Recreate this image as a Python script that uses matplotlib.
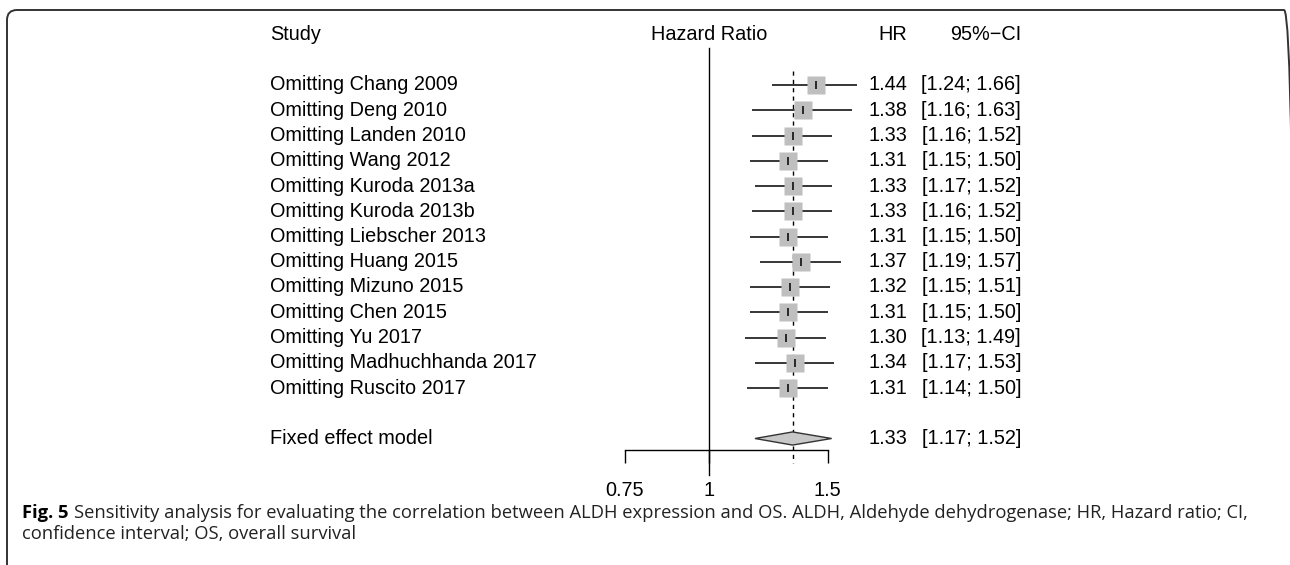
import numpy as np
import matplotlib
matplotlib.use("Agg")
import matplotlib.pyplot as plt
from matplotlib.patches import FancyBboxPatch
from matplotlib.transforms import blended_transform_factory, IdentityTransform

# === Data ===
studies = ["Omitting Chang 2009", "Omitting Deng 2010", "Omitting Landen 2010",
           "Omitting Wang 2012", "Omitting Kuroda 2013a", "Omitting Kuroda 2013b",
           "Omitting Liebscher 2013", "Omitting Huang 2015", "Omitting Mizuno 2015",
           "Omitting Chen 2015", "Omitting Yu 2017", "Omitting Madhuchhanda 2017",
           "Omitting Ruscito 2017"]
hr = [1.44, 1.38, 1.33, 1.31, 1.33, 1.33, 1.31, 1.37, 1.32, 1.31, 1.30, 1.34, 1.31]
ci_low = [1.24, 1.16, 1.16, 1.15, 1.17, 1.16, 1.15, 1.19, 1.15, 1.15, 1.13, 1.17, 1.14]
ci_high = [1.66, 1.63, 1.52, 1.50, 1.52, 1.52, 1.50, 1.57, 1.51, 1.50, 1.49, 1.53, 1.50]
fixed_label = "Fixed effect model"
fixed_hr, fixed_low, fixed_high = 1.33, 1.17, 1.52
xticks = [0.75, 1, 1.5]
xtick_labels = ["0.75", "1", "1.5"]

caption_bold = "Fig. 5"
caption_line1 = ("Sensitivity analysis for evaluating the correlation between ALDH expression "
                 "and OS. ALDH, Aldehyde dehydrogenase; HR, Hazard ratio; CI,")
caption_line2 = "confidence interval; OS, overall survival"

# === Layout (pixels) ===
W, H = 1290, 565
fig = plt.figure(figsize=(W / 100, H / 100), dpi=100)
plt.rcParams['font.family'] = ['Liberation Sans', 'DejaVu Sans']
FS = 14.3
CAP_FS = 13.2

def fx(px):
    return px / W

def fy(py):
    return 1 - py / H

# rounded frame (display pixels, origin bottom-left); bottom and right run off the canvas
frame = FancyBboxPatch((7, -40), 1294 - 7, (H - 10) + 40,
                       boxstyle="round,pad=0,rounding_size=10",
                       transform=IdentityTransform(), fill=False,
                       edgecolor='#333333', linewidth=1.4)
fig.patches.append(frame)

# forest axes: log x, row index y
x_ref, k = 709, 292.9
row_first, row_h = 85, 25.25
ax_l, ax_r, ax_t, ax_b = 560, 880, 20, 480
ax = fig.add_axes([fx(ax_l), fy(ax_b), (ax_r - ax_l) / W, (ax_b - ax_t) / H])
ax.set_xscale('log')
ax.set_xlim(np.exp((ax_l - x_ref) / k), np.exp((ax_r - x_ref) / k))
ax.set_ylim((ax_b - row_first) / row_h, (ax_t - row_first) / row_h)
ax.patch.set_visible(False)
for s in ['left', 'top', 'right']:
    ax.spines[s].set_visible(False)
ax.yaxis.set_visible(False)

n = len(studies)
y_fixed = n + 1
y_axis = (450 - row_first) / row_h
y_head = (35 - row_first) / row_h

ax.spines['bottom'].set_position(('data', y_axis))
ax.spines['bottom'].set_bounds(xticks[0], xticks[-1])
ax.spines['bottom'].set_linewidth(1.0)
ax.set_xticks(xticks)
ax.set_xticklabels(xtick_labels)
ax.xaxis.set_minor_locator(matplotlib.ticker.NullLocator())
ax.tick_params(axis='x', direction='out', length=9.4, width=1.0, pad=13, labelsize=FS)

# reference line at 1 and dashed line at pooled estimate
ax.plot([1, 1], [(48 - row_first) / row_h, (475 - row_first) / row_h],
        color='black', lw=1.0, zorder=1)
ax.plot([fixed_hr, fixed_hr], [-0.55, (463 - row_first) / row_h],
        color='black', lw=1.0, ls=(0, (3, 3)), zorder=1)

for i in range(n):
    ax.plot([ci_low[i], ci_high[i]], [i, i], color='black', lw=1.1, zorder=2,
            solid_capstyle='butt')
    ax.plot(hr[i], i, marker='s', ms=13.5, color='#bfbfbf', mec='none', zorder=3)
    ax.plot(hr[i], i, marker='|', ms=5.5, mew=1.1, color='black', zorder=4)

# diamond for pooled estimate
dh = 0.26
ax.fill([fixed_low, fixed_hr, fixed_high, fixed_hr],
        [y_fixed, y_fixed - dh, y_fixed, y_fixed + dh],
        facecolor='#c8c8c8', edgecolor='#333333', lw=1.0, zorder=3)

# text columns
tr = blended_transform_factory(fig.transFigure, ax.transData)
x_lab, x_hr, x_ci = fx(270), fx(907), fx(1021)
ax.text(x_lab, y_head, "Study", transform=tr, ha='left', va='center', fontsize=FS)
ax.text(1, y_head, "Hazard Ratio", ha='center', va='center', fontsize=FS)
ax.text(x_hr, y_head, "HR", transform=tr, ha='right', va='center', fontsize=FS)
ax.text(x_ci, y_head, "95%\u2212CI", transform=tr, ha='right', va='center', fontsize=FS)

for i in range(n):
    ax.text(x_lab, i, studies[i], transform=tr, ha='left', va='center', fontsize=FS)
    ax.text(x_hr, i, f"{hr[i]:.2f}", transform=tr, ha='right', va='center', fontsize=FS)
    ax.text(x_ci, i, f"[{ci_low[i]:.2f}; {ci_high[i]:.2f}]", transform=tr,
            ha='right', va='center', fontsize=FS)

ax.text(x_lab, y_fixed, fixed_label, transform=tr, ha='left', va='center', fontsize=FS)
ax.text(x_hr, y_fixed, f"{fixed_hr:.2f}", transform=tr, ha='right', va='center', fontsize=FS)
ax.text(x_ci, y_fixed, f"[{fixed_low:.2f}; {fixed_high:.2f}]", transform=tr,
        ha='right', va='center', fontsize=FS)

# caption
cap_font = ['Open Sans', 'DejaVu Sans']
t_bold = fig.text(fx(22), fy(513), caption_bold, ha='left', va='center',
                  fontsize=CAP_FS, weight='bold', family=cap_font)
renderer = fig.canvas.get_renderer()
bb = t_bold.get_window_extent(renderer)
fig.text((bb.x1 + 5) / W, fy(513), caption_line1, ha='left', va='center',
         fontsize=CAP_FS, family=cap_font, color='#222222')
fig.text(fx(22), fy(534), caption_line2, ha='left', va='center',
         fontsize=CAP_FS, family=cap_font, color='#222222')

fig.savefig("out.png", dpi=100)
